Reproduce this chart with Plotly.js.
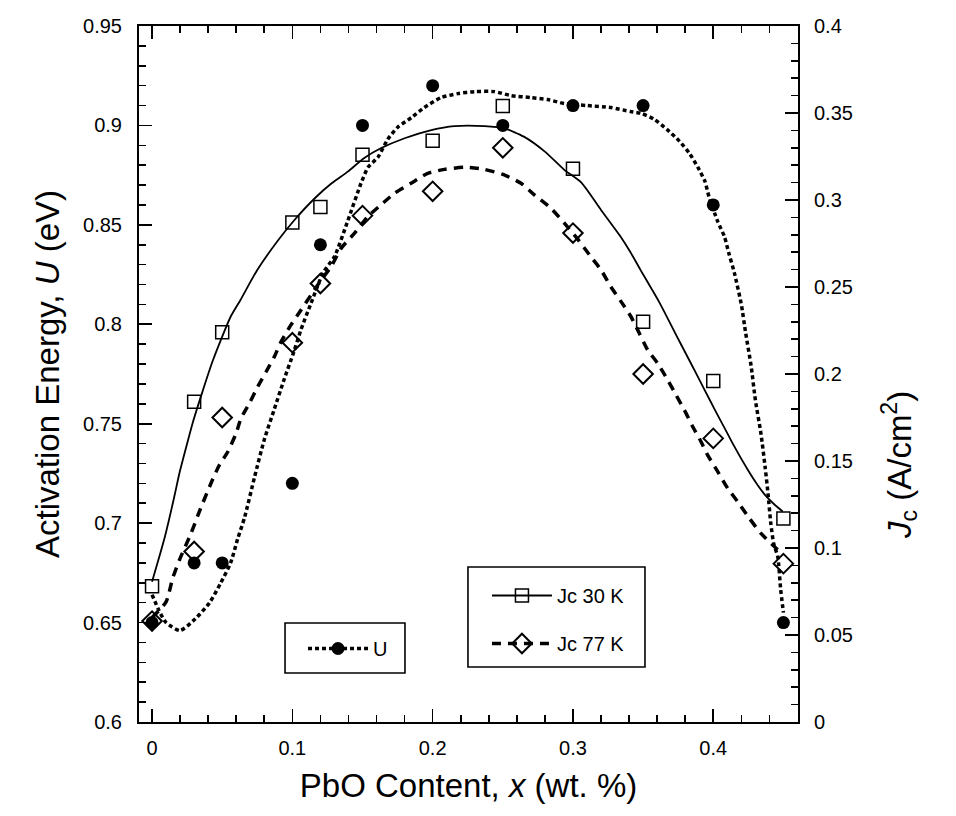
<!DOCTYPE html>
<html>
<head>
<meta charset="utf-8">
<script src="https://cdn.plot.ly/plotly-3.0.1.min.js"></script>
<style>html,body{margin:0;padding:0;background:#fff;}#chart{width:956px;height:816px;}</style>
</head>
<body>
<div id="chart"></div>
<script>
// measured points
const xPts = [0, 0.03, 0.05, 0.1, 0.12, 0.15, 0.2, 0.25, 0.3, 0.35, 0.4, 0.45];
const uPts = [0.65, 0.68, 0.68, 0.72, 0.84, 0.90, 0.92, 0.90, 0.91, 0.91, 0.86, 0.65];
const jc30Pts = [0.078, 0.184, 0.224, 0.287, 0.296, 0.326, 0.334, 0.354, 0.318, 0.230, 0.196, 0.117];
const jc77Pts = [0.058, 0.098, 0.175, 0.218, 0.252, 0.291, 0.305, 0.330, 0.281, 0.200, 0.163, 0.091];

// fitted curves
const uCurveX = [0, 0.005, 0.01, 0.02, 0.031, 0.041, 0.049, 0.056, 0.061, 0.066, 0.073, 0.08, 0.087, 0.094, 0.101, 0.106, 0.113, 0.122, 0.13, 0.139, 0.149, 0.154, 0.161, 0.168, 0.175, 0.185, 0.194, 0.206, 0.218, 0.23, 0.244, 0.256, 0.27, 0.282, 0.294, 0.31, 0.327, 0.341, 0.349, 0.358, 0.367, 0.376, 0.383, 0.389, 0.394, 0.397, 0.403, 0.408, 0.411, 0.415, 0.42, 0.423, 0.427, 0.43, 0.434, 0.437, 0.439, 0.441, 0.443, 0.446, 0.448, 0.45];
const uCurveY = [0.664, 0.656, 0.650, 0.646, 0.652, 0.660, 0.670, 0.680, 0.692, 0.703, 0.723, 0.742, 0.757, 0.772, 0.786, 0.797, 0.810, 0.826, 0.834, 0.851, 0.871, 0.879, 0.884, 0.893, 0.899, 0.904, 0.909, 0.914, 0.916, 0.917, 0.917, 0.915, 0.914, 0.913, 0.911, 0.910, 0.909, 0.907, 0.906, 0.903, 0.898, 0.892, 0.886, 0.879, 0.872, 0.864, 0.852, 0.844, 0.836, 0.826, 0.810, 0.796, 0.779, 0.762, 0.745, 0.728, 0.715, 0.700, 0.690, 0.683, 0.667, 0.655];

const jc30CurveX = [0, 0.009, 0.016, 0.0195, 0.025, 0.029, 0.036, 0.043, 0.049, 0.056, 0.063, 0.075, 0.09, 0.1015, 0.116, 0.128, 0.1395, 0.151, 0.163, 0.18, 0.199, 0.2155, 0.237, 0.251, 0.265, 0.28, 0.294, 0.306, 0.32, 0.334, 0.341, 0.348, 0.356, 0.361, 0.3675, 0.3735, 0.3806, 0.3877, 0.3937, 0.4008, 0.408, 0.4139, 0.4198, 0.4246, 0.4305, 0.4364, 0.4436, 0.4495];
const jc30CurveY = [0.0806, 0.106, 0.130, 0.143, 0.160, 0.172, 0.190, 0.207, 0.2195, 0.2329, 0.2425, 0.2598, 0.277, 0.2885, 0.301, 0.3096, 0.3163, 0.324, 0.3297, 0.3355, 0.3402, 0.3425, 0.3425, 0.3412, 0.3364, 0.3278, 0.3172, 0.310, 0.2943, 0.2789, 0.270, 0.260, 0.249, 0.242, 0.232, 0.2225, 0.2115, 0.2005, 0.191, 0.180, 0.169, 0.160, 0.1515, 0.145, 0.1375, 0.131, 0.125, 0.121];

const jc77CurveX = [0, 0.01, 0.0147, 0.0195, 0.0278, 0.0337, 0.042, 0.048, 0.054, 0.0599, 0.0634, 0.0694, 0.0753, 0.0813, 0.0872, 0.092, 0.099, 0.1062, 0.1133, 0.1205, 0.1276, 0.1347, 0.1442, 0.1537, 0.163, 0.1727, 0.1846, 0.1965, 0.2084, 0.2227, 0.2369, 0.251, 0.263, 0.2725, 0.2844, 0.294, 0.3034, 0.3118, 0.32, 0.327, 0.3343, 0.3414, 0.3473, 0.3533, 0.3604, 0.3675, 0.3735, 0.3794, 0.3854, 0.3913, 0.396, 0.4032, 0.4103, 0.4174, 0.4257, 0.434, 0.4436, 0.447];
const jc77CurveY = [0.060, 0.069, 0.0826, 0.0931, 0.1084, 0.1209, 0.1372, 0.1477, 0.1553, 0.1659, 0.1745, 0.1832, 0.1927, 0.2013, 0.21, 0.2186, 0.2282, 0.2368, 0.2454, 0.254, 0.2617, 0.2722, 0.2808, 0.2904, 0.2971, 0.3038, 0.3096, 0.3153, 0.3176, 0.3188, 0.3176, 0.3144, 0.3096, 0.3029, 0.2952, 0.2866, 0.2775, 0.2684, 0.2598, 0.2502, 0.2416, 0.2329, 0.2234, 0.2138, 0.2061, 0.1966, 0.1879, 0.1793, 0.1697, 0.1611, 0.1534, 0.1439, 0.1343, 0.1266, 0.1171, 0.1084, 0.1008, 0.098];

const FONT = 'Liberation Sans, Arial, sans-serif';
const uDash = '4px,3px';
const j77Dash = '9px,7px';

const traces = [
  // curves
  {x: jc30CurveX, y: jc30CurveY, yaxis: 'y2', mode: 'lines', line: {color: '#000', width: 1.8, shape: 'spline', smoothing: 0.6}, showlegend: false, hoverinfo: 'skip'},
  {x: jc77CurveX, y: jc77CurveY, yaxis: 'y2', mode: 'lines', line: {color: '#000', width: 3.5, dash: j77Dash, shape: 'spline', smoothing: 0.6}, showlegend: false, hoverinfo: 'skip'},
  {x: uCurveX, y: uCurveY, mode: 'lines', line: {color: '#000', width: 3.5, dash: uDash, shape: 'spline', smoothing: 0.6}, showlegend: false, hoverinfo: 'skip'},
  // points
  {x: xPts, y: jc30Pts, yaxis: 'y2', mode: 'markers', marker: {symbol: 'square-open', size: 13, color: '#000', line: {width: 1.5}}, showlegend: false},
  {x: xPts, y: jc77Pts, yaxis: 'y2', mode: 'markers', marker: {symbol: 'diamond-open', size: 15, color: '#000', line: {width: 2}}, showlegend: false},
  {x: xPts, y: uPts, mode: 'markers', marker: {symbol: 'circle', size: 13, color: '#000'}, showlegend: false},
  // legend entries
  {x: [null], y: [null], name: 'U', mode: 'lines+markers', legend: 'legend', line: {color: '#000', width: 3.5, dash: uDash}, marker: {symbol: 'circle', size: 13, color: '#000'}},
  {x: [null], y: [null], name: 'Jc 30 K', yaxis: 'y2', mode: 'lines+markers', legend: 'legend2', legendgroup: 'a', line: {color: '#000', width: 1.8}, marker: {symbol: 'square-open', size: 13, color: '#000', line: {width: 1.5}}},
  {x: [null], y: [null], name: 'Jc 77 K', yaxis: 'y2', mode: 'lines+markers', legend: 'legend2', legendgroup: 'b', line: {color: '#000', width: 3.5, dash: j77Dash}, marker: {symbol: 'diamond-open', size: 15, color: '#000', line: {width: 2}}}
];

const tickFont = {family: FONT, size: 20, color: '#000'};
const titleFont = {family: FONT, size: 33, color: '#000'};
const layout = {
  width: 956, height: 816,
  margin: {l: 139, r: 158, t: 26, b: 94},
  paper_bgcolor: '#fff', plot_bgcolor: '#fff',
  font: {family: FONT, color: '#000'},
  xaxis: {
    range: [-0.0093, 0.4604], dtick: 0.1, tick0: 0,
    ticks: 'inside', ticklen: 13, tickwidth: 1.6, tickcolor: '#000',
    minor: {dtick: 0.02, tick0: 0, ticks: 'inside', ticklen: 7, tickwidth: 1.6, tickcolor: '#000'},
    showline: true, linecolor: '#000', linewidth: 2, mirror: 'ticks',
    showgrid: false, zeroline: false, tickfont: tickFont, ticklabelstandoff: 7,
    title: {text: 'PbO Content, <i>x</i> (wt. %)', font: titleFont, standoff: 16}
  },
  yaxis: {
    range: [0.6, 0.95], dtick: 0.05, tick0: 0.6,
    ticks: 'inside', ticklen: 13, tickwidth: 1.6, tickcolor: '#000',
    minor: {dtick: 0.01, tick0: 0.6, ticks: 'inside', ticklen: 7, tickwidth: 1.6, tickcolor: '#000'},
    showline: true, linecolor: '#000', linewidth: 2,
    showgrid: false, zeroline: false, tickfont: tickFont, ticklabelstandoff: 11,
    title: {text: 'Activation Energy, <i>U</i> (eV)', font: titleFont, standoff: 14}
  },
  yaxis2: {
    overlaying: 'y', side: 'right',
    range: [0, 0.4], dtick: 0.05, tick0: 0,
    ticks: 'inside', ticklen: 13, tickwidth: 1.6, tickcolor: '#000',
    minor: {dtick: 0.01, tick0: 0, ticks: 'inside', ticklen: 7, tickwidth: 1.6, tickcolor: '#000'},
    showline: true, linecolor: '#000', linewidth: 2,
    showgrid: false, zeroline: false, tickfont: tickFont, ticklabelstandoff: 10
  },
  annotations: [{
    text: '<i>J</i><sub>c</sub> (A/cm<sup>2</sup>)', textangle: -90,
    xref: 'paper', yref: 'paper', x: 1.153, y: 0.369, xanchor: 'center', yanchor: 'middle',
    showarrow: false, font: titleFont
  }],
  shapes: [
    {type: 'rect', xref: 'paper', yref: 'paper', x0: 0.2216, x1: 0.4036, y0: 0.0704, y1: 0.1422, line: {color: '#000', width: 1.6}, fillcolor: '#fff', layer: 'above'},
    {type: 'rect', xref: 'paper', yref: 'paper', x0: 0.4992, x1: 0.7678, y0: 0.0790, y1: 0.2227, line: {color: '#000', width: 1.6}, fillcolor: '#fff', layer: 'above'}
  ],
  legend: {
    x: 0.2489, y: 0.1336, xanchor: 'left', yanchor: 'top',
    bgcolor: 'rgba(0,0,0,0)', borderwidth: 0,
    font: {family: FONT, size: 20, color: '#000'}, itemwidth: 60
  },
  legend2: {
    x: 0.528, y: 0.2098, xanchor: 'left', yanchor: 'top',
    bgcolor: 'rgba(0,0,0,0)', borderwidth: 0,
    font: {family: FONT, size: 20, color: '#000'}, itemwidth: 60,
    traceorder: 'grouped', tracegroupgap: 19
  },
  showlegend: true
};

Plotly.newPlot('chart', traces, layout, {displayModeBar: false, staticPlot: true});
</script>
</body>
</html>
